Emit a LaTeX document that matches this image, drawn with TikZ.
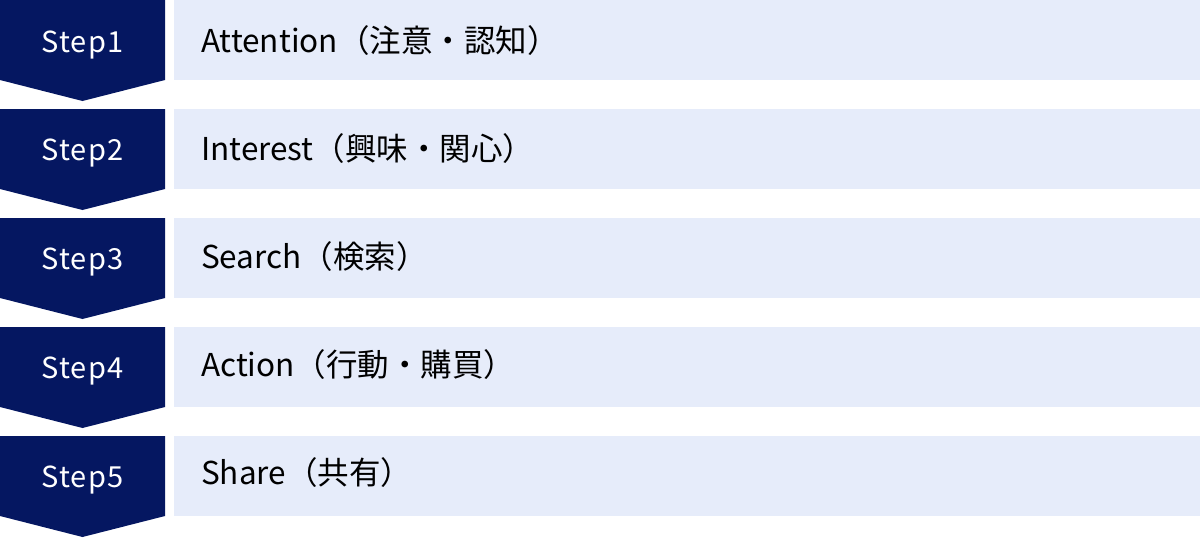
\documentclass[tikz,border=0pt]{standalone}
\usepackage{fontspec}
\setmainfont{Noto Sans CJK JP}
\newfontfamily\stepfont[LetterSpace=4]{Noto Sans CJK JP}
\definecolor{stepnavy}{RGB}{5,23,97}
\definecolor{barblue}{RGB}{230,236,250}
\tikzset{
  steplabel/.style={anchor=base, inner sep=0pt, text=white, font=\stepfont\fontsize{29}{29}\selectfont},
  barlabel/.style={anchor=base west, inner sep=0pt, text=black, font=\fontsize{31.5}{31.5}\selectfont}
}

\begin{document}
\begin{tikzpicture}[x=1pt,y=-1pt]
        % Area del disegno
        \useasboundingbox (0,0) rectangle (1200,538);

        % Frecce dei passi
        \fill[stepnavy] (0,0) -- (165,0) -- (165,80) -- (82.5,101) -- (0,80) -- cycle; % Step 1
        \fill[stepnavy] (0,109) -- (165,109) -- (165,189) -- (82.5,210) -- (0,189) -- cycle; % Step 2
        \fill[stepnavy] (0,218) -- (165,218) -- (165,298) -- (82.5,319) -- (0,298) -- cycle; % Step 3
        \fill[stepnavy] (0,327) -- (165,327) -- (165,407) -- (82.5,428) -- (0,407) -- cycle; % Step 4
        \fill[stepnavy] (0,436) -- (165,436) -- (165,516) -- (82.5,537) -- (0,516) -- cycle; % Step 5

        % Barre chiare
        \fill[barblue] (174,0) rectangle (1200,80);
        \fill[barblue] (174,109) rectangle (1200,189);
        \fill[barblue] (174,218) rectangle (1200,298);
        \fill[barblue] (174,327) rectangle (1200,407);
        \fill[barblue] (174,436) rectangle (1200,516);

        % Etichette dei passi
        \node[steplabel] (step1) at (82.5,52) {Step1};
        \node[steplabel] (step2) at (82.5,160) {Step2};
        \node[steplabel] (step3) at (82.5,269) {Step3};
        \node[steplabel] (step4) at (82.5,378) {Step4};
        \node[steplabel] (step5) at (82.5,487) {Step5};

        % Testi delle barre
        \node[barlabel] (attention) at (201,52) {Attention（注意・認知）};
        \node[barlabel] (interest) at (201,160) {Interest（興味・関心）};
        \node[barlabel] (search) at (201,268) {Search（検索）};
        \node[barlabel] (action) at (201,376) {Action（行動・購買）};
        \node[barlabel] (share) at (201,484) {Share（共有）};
\end{tikzpicture}
\end{document}
